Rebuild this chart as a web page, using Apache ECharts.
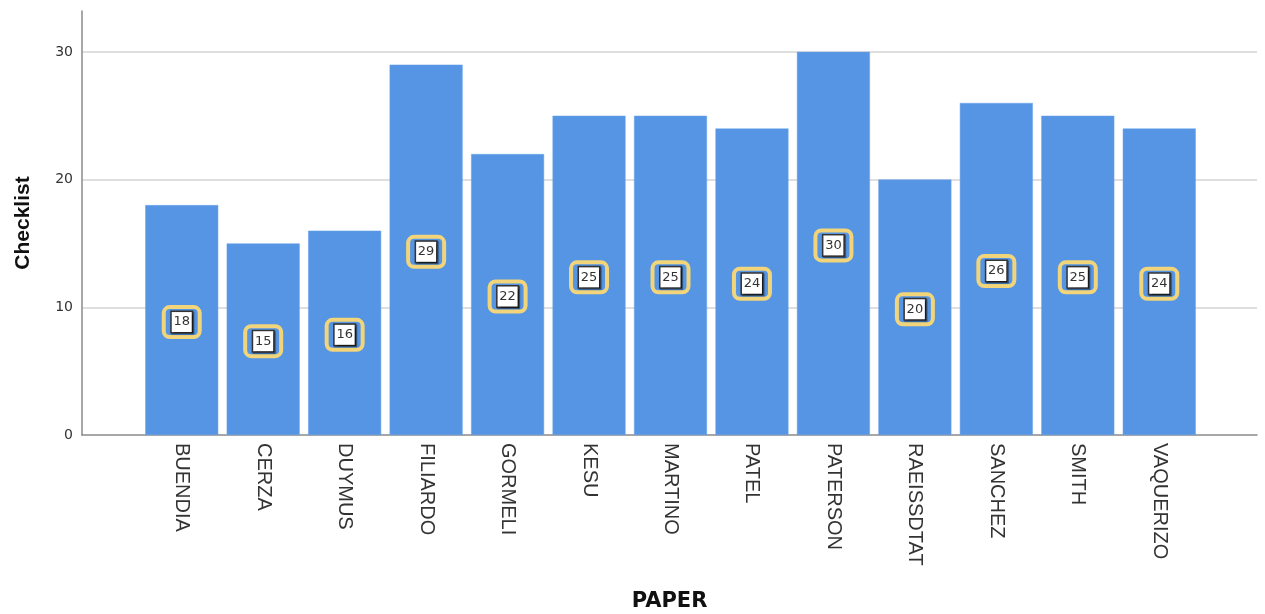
<!DOCTYPE html>
<html>
<head>
<meta charset="utf-8">
<script src="https://cdn.jsdelivr.net/npm/echarts@6/dist/echarts.min.js"></script>
<style>
  html, body { margin: 0; padding: 0; background: #fff; }
  #chart { width: 1265px; height: 614px; }
</style>
</head>
<body>
<div id="chart"></div>
<script>
// Checklist score per paper
const papers = ['BUENDIA', 'CERZA', 'DUYMUS', 'FILIARDO', 'GORMELI', 'KESU', 'MARTINO',
                'PATEL', 'PATERSON', 'RAEISSDTAT', 'SANCHEZ', 'SMITH', 'VAQUERIZO'];
const checklist = [18, 15, 16, 29, 22, 25, 25, 24, 30, 20, 26, 25, 24];
const yTicks = [0, 10, 20, 30];

const yMax = 33.2;
const sans = 'Liberation Sans, Arial, sans-serif';
const wide = 'DejaVu Sans, Verdana, sans-serif';

const chart = echarts.init(document.getElementById('chart'));
chart.setOption({
  animation: false,
  backgroundColor: '#ffffff',
  grid: [
    // frame grid: axis lines, gridlines and titles
    { left: 82, right: 8, top: 11, bottom: 179, containLabel: false, outerBoundsMode: 'none' },
    // bar grid: inset so the category bands leave padding on both sides
    { left: 141, right: 65, top: 11, bottom: 179, containLabel: false, outerBoundsMode: 'none' }
  ],
  xAxis: [
    {
      gridIndex: 0, type: 'value', min: 0, max: 1,
      axisLine: { show: true, lineStyle: { color: '#8a8a8a', width: 1.5 } },
      axisTick: { show: false }, axisLabel: { show: false }, splitLine: { show: false },
      name: 'PAPER', nameLocation: 'middle', nameGap: 156,
      nameTextStyle: { fontFamily: wide, fontSize: 21, fontWeight: 'bold', color: '#111' }
    },
    {
      gridIndex: 1, type: 'category', data: papers,
      axisLine: { show: false }, axisTick: { show: false },
      axisLabel: {
        rotate: -90, margin: 8, fontFamily: sans, fontSize: 20, color: '#333',
        interval: 0
      }
    }
  ],
  yAxis: [
    {
      gridIndex: 0, type: 'value', min: 0, max: yMax, interval: 10,
      axisLine: { show: true, lineStyle: { color: '#8a8a8a', width: 1.5 } },
      axisTick: { show: false },
      axisLabel: {
        showMaxLabel: false, margin: 9, fontFamily: wide, fontSize: 14, color: '#333',
        formatter: v => (yTicks.includes(v) ? String(v) : '')
      },
      splitLine: { show: true, showMinLine: false, showMaxLine: false,
                   lineStyle: { color: '#d4d4d4', width: 1.5 } },
      name: 'Checklist', nameLocation: 'middle', nameGap: 48, nameRotate: 90,
      nameTextStyle: { fontFamily: sans, fontSize: 21, fontWeight: 'bold', color: '#111' }
    },
    {
      gridIndex: 1, type: 'value', min: 0, max: yMax, interval: 10,
      show: false, splitLine: { show: false }
    }
  ],
  series: [
    {
      type: 'bar',
      xAxisIndex: 1, yAxisIndex: 1,
      data: checklist,
      barCategoryGap: '10.4%',
      itemStyle: { color: '#5595e4', borderColor: '#6aa3ea', borderWidth: 0.5 },
      label: {
        show: true,
        position: 'inside',
        offset: [0, 2],
        formatter: p => '{v|' + p.value + '}',
        backgroundColor: 'transparent',
        borderColor: '#f2d57a',
        borderWidth: 2,
        borderRadius: 6,
        padding: [6, 8, 6, 8],
        rich: {
          v: {
            fontFamily: wide, fontSize: 13, color: '#333',
            backgroundColor: '#ffffff',
            borderColor: '#333333', borderWidth: 1.5,
            width: 18, height: 18, lineHeight: 18, align: 'center',
            padding: [1, 1, 1, 1],
            shadowColor: 'rgba(0,0,0,0.5)', shadowOffsetX: 1, shadowOffsetY: 1, shadowBlur: 1
          }
        }
      }
    }
  ]
});
</script>
</body>
</html>
